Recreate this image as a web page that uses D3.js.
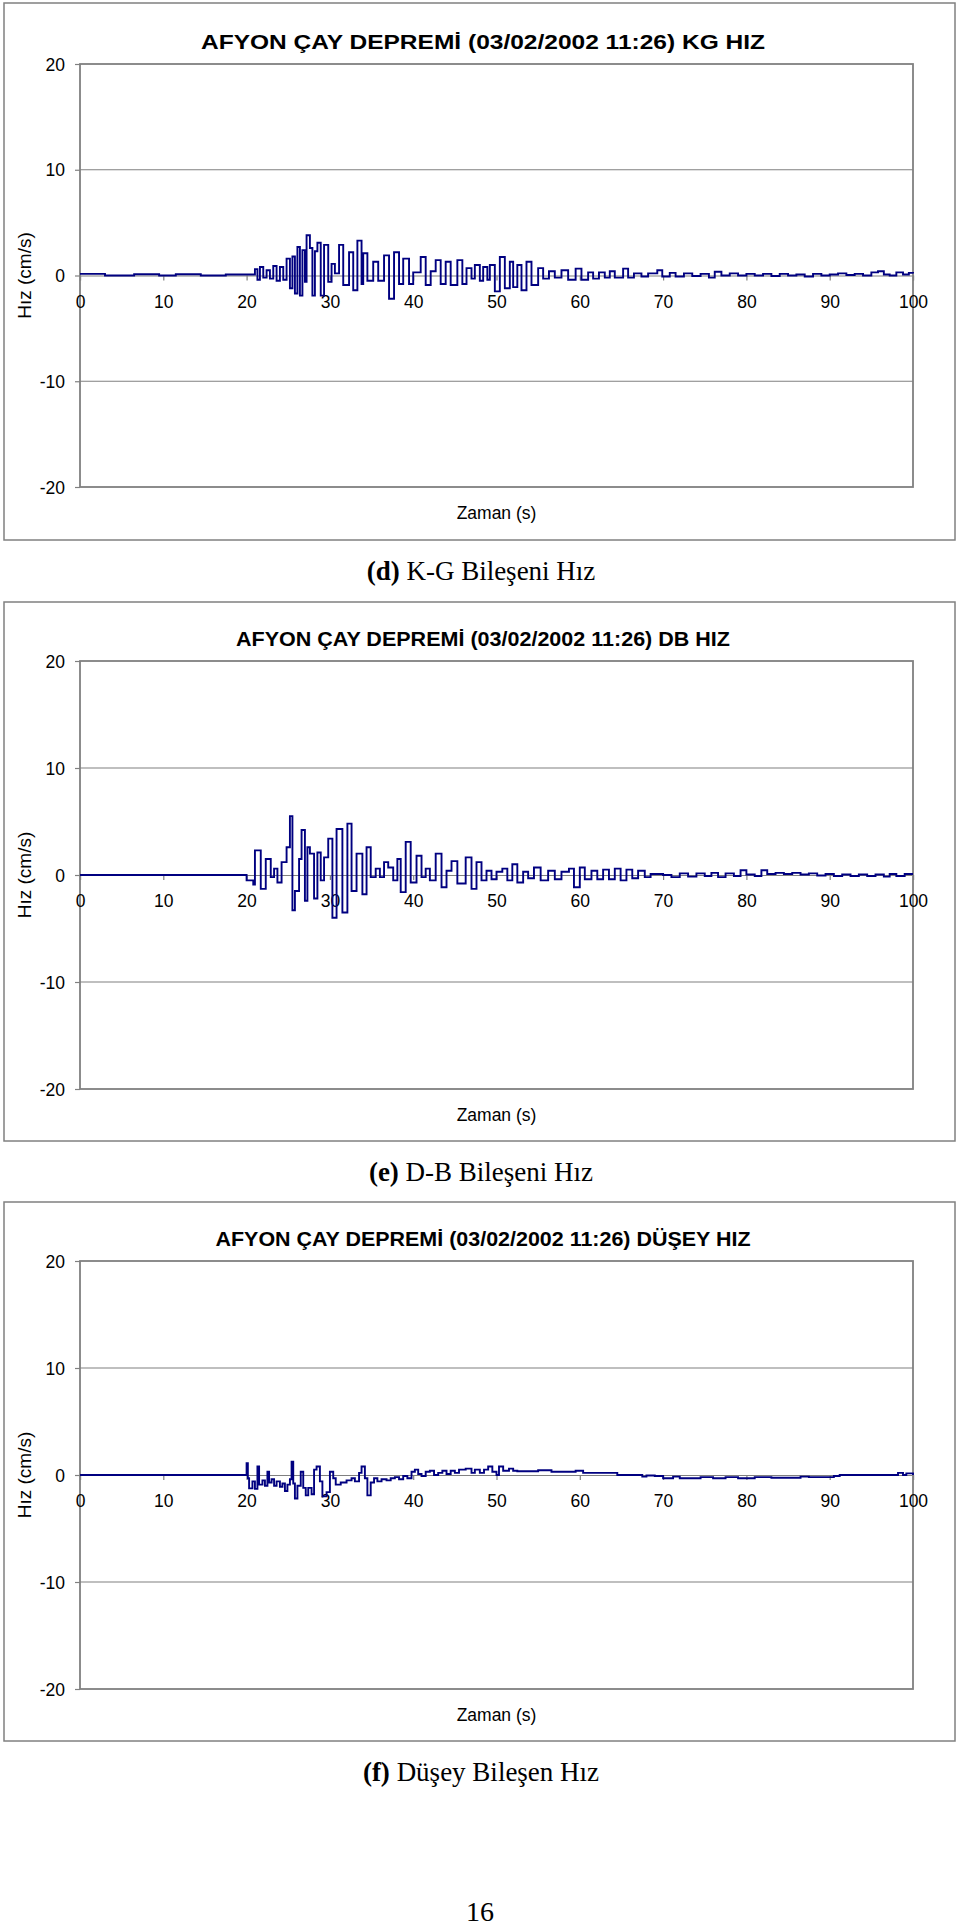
<!DOCTYPE html>
<html>
<head>
<meta charset="utf-8">
<script src="https://cdn.jsdelivr.net/npm/d3@7/dist/d3.min.js"></script>
<style>
  html, body { margin: 0; padding: 0; background: #ffffff; }
  svg { display: block; }
</style>
</head>
<body>
<svg id="page" width="960" height="1930"></svg>
<script>
// ---------------- DATA ----------------
const xTicks = [0, 10, 20, 30, 40, 50, 60, 70, 80, 90, 100];
const yTicks = [-20, -10, 0, 10, 20];

const titles = [
  "AFYON ÇAY DEPREMİ (03/02/2002 11:26) KG HIZ",
  "AFYON ÇAY DEPREMİ (03/02/2002 11:26) DB HIZ",
  "AFYON ÇAY DEPREMİ (03/02/2002 11:26) DÜŞEY HIZ"
];
const captionLetters = ["(d)", "(e)", "(f)"];
const captionTexts = [" K-G Bileşeni Hız", " D-B Bileşeni Hız", " Düşey Bileşen Hız"];
const xTitle = "Zaman (s)";
const yTitle = "Hız (cm/s)";
const pageNumber = "16";

// K-G component: time (s) and velocity (cm/s)
const kgTime = [0, 3, 6.5, 9.5, 11.5, 14.5, 17.5, 20.6, 21.0, 21.3, 21.6, 22.0, 22.4, 22.8, 23.2, 23.6, 24.0, 24.4, 24.8, 25.2,
  25.5, 25.8, 26.1, 26.4, 26.7, 27.0, 27.2, 27.6, 27.9, 28.2, 28.5, 28.9, 29.3, 29.8, 30.2, 30.6, 31.1, 31.6, 32.3, 32.8,
  33.3, 33.8, 34.0, 34.5, 35.2, 35.8, 36.5, 37.1, 37.7, 38.3, 38.8, 39.5, 40.0, 40.9, 41.5, 42.1, 42.7, 43.3, 43.9, 44.5,
  45.3, 45.9, 46.4, 47.0, 47.4, 48.0, 48.4, 48.9, 49.2, 49.8, 50.4, 51.0, 51.6, 52.0, 52.5, 53.0, 53.6, 54.2, 55.0, 55.6,
  56.3, 57.0, 57.8, 58.6, 59.5, 60.2, 61.0, 61.6, 62.3, 63.0, 63.6, 64.2, 65.2, 65.8, 66.5, 67.4, 68.2, 69.3, 69.9, 70.8,
  71.5, 72.5, 73.5, 74.5, 75.5, 76.2, 77.0, 78.0, 79.0, 80.0, 81.0, 82.0, 83.0, 84.0, 85.0, 86.0, 87.0, 88.0, 89.0, 90.0,
  91.0, 92.0, 93.0, 94.0, 95.0, 95.8, 96.5, 97.2, 98.0, 98.8, 99.5, 100];
const kgVel = [0.15, 0.0, 0.12, 0.0, 0.12, 0.0, 0.1, 0.1, 0.6, -0.4, 0.8, -0.2, 0.5, -0.3, 0.9, -0.5, 0.8, -0.4, 1.6, -1.2,
  1.8, -1.7, 2.7, -1.9, 2.4, -0.6, 3.8, 2.6, -1.9, 2.3, 3.1, -1.9, 2.9, -0.6, 1.1, 0.2, 2.9, -0.9, 2.2, -1.4,
  3.3, -0.8, 2.1, -0.5, 1.3, -0.5, 1.9, -2.2, 2.2, -0.8, 1.6, -0.8, 0.3, 1.75, -0.9, 0.4, 1.45, -0.8, 1.3, -0.9,
  1.45, -0.8, 0.7, -0.3, 1.0, -0.5, 0.8, -0.4, 1.0, -1.5, 1.75, -1.2, 1.3, -1.1, 1.0, -1.4, 1.3, -0.9, 0.7, -0.3,
  0.4, -0.2, 0.5, -0.4, 0.65, -0.4, 0.3, -0.3, 0.3, -0.2, 0.4, -0.2, 0.65, -0.2, 0.2, -0.1, 0.2, 0.5, -0.1, 0.25,
  -0.1, 0.2, -0.05, 0.15, -0.2, 0.35, 0.0, 0.2, 0.0, 0.15, 0.0, 0.15, -0.05, 0.15, 0.0, 0.1, -0.1, 0.15, 0.0, 0.1,
  0.2, 0.05, 0.15, 0.0, 0.3, 0.4, 0.1, 0.0, 0.3, 0.1, 0.25, 0.2];

// D-B component
const dbTime = [0, 20.0, 20.8, 21.0, 21.7, 22.3, 22.9, 23.3, 23.7, 24.2, 24.8, 25.2, 25.5, 25.8, 26.3, 26.6, 27.0, 27.3, 27.6, 28.1,
  28.5, 28.9, 29.3, 29.8, 30.3, 30.8, 31.5, 32.1, 32.6, 33.2, 33.9, 34.4, 34.9, 35.5, 36.0, 36.5, 37.0, 37.6, 38.1, 38.5,
  39.1, 39.7, 40.4, 41.0, 41.5, 42.0, 42.7, 43.4, 44.0, 44.6, 45.3, 46.3, 47.0, 47.6, 48.2, 48.8, 49.4, 50.0, 50.7, 51.3,
  51.9, 52.5, 53.2, 53.8, 54.5, 55.3, 56.2, 57.0, 57.8, 58.7, 59.3, 60.0, 60.6, 61.4, 62.1, 62.8, 63.5, 64.2, 64.9, 65.6,
  66.3, 67.0, 67.8, 68.5, 70.0, 71.0, 72.0, 73.0, 74.0, 75.0, 75.8, 76.6, 77.5, 78.5, 79.3, 80.0, 81.0, 81.8, 82.5, 83.5,
  84.5, 85.5, 86.5, 87.5, 88.5, 89.5, 90.5, 91.5, 92.5, 93.5, 94.5, 95.5, 96.5, 97.2, 98.0, 99.0, 100];
const dbVel = [0, -0.5, -0.9, 2.3, -1.3, 1.5, -0.2, 0.6, -0.7, 1.2, 2.6, 5.5, -3.3, -1.5, 1.5, 4.2, -2.4, 2.6, 2.0, -2.2,
  2.1, -0.5, 1.65, 3.4, -4.0, 4.3, -3.5, 4.8, -1.5, 2.0, -1.8, 2.6, -0.2, 0.6, -0.2, 1.2, 0.7, -0.5, 1.5, -1.6,
  3.1, -0.7, 1.8, -0.2, 0.6, -0.5, 2.0, -1.15, 0.4, 1.3, -0.8, 1.65, -1.3, 1.2, -0.5, 0.4, -0.4, 0.3, 0.6, -0.5,
  1.0, -0.7, 0.3, -0.3, 0.7, -0.5, 0.4, -0.4, 0.3, 0.6, -1.15, 0.7, -0.4, 0.4, -0.4, 0.5, -0.4, 0.6, -0.5, 0.5,
  -0.3, 0.4, -0.2, 0.1, 0.0, -0.2, 0.15, -0.15, 0.15, -0.1, 0.2, -0.2, 0.15, -0.1, 0.45, 0.05, -0.1, 0.45, 0.1, 0.2,
  0.1, 0.2, 0.05, 0.15, -0.05, 0.1, -0.1, 0.05, -0.1, 0.05, -0.1, 0.05, -0.15, 0.1, -0.1, 0.1, 0.1];

// Vertical (Düşey) component
const dzTime = [0, 20.0, 20.15, 20.3, 20.7, 21.0, 21.3, 21.5, 21.9, 22.2, 22.5, 22.7, 23.0, 23.3, 23.6, 24.0, 24.3, 24.6, 24.9, 25.2,
  25.4, 25.6, 25.8, 26.1, 26.5, 26.8, 27.1, 27.4, 27.8, 28.1, 28.4, 28.8, 29.1, 29.6, 30.0, 30.4, 30.7, 31.3, 32.0, 32.6,
  33.0, 33.5, 33.8, 34.2, 34.5, 34.9, 35.3, 35.7, 36.2, 36.8, 37.3, 37.8, 38.3, 38.8, 39.3, 39.8, 40.2, 40.6, 41.0, 41.5,
  42.0, 42.5, 43.0, 43.5, 44.0, 44.5, 45.0, 45.5, 46.3, 47.0, 47.4, 48.0, 48.5, 49.0, 49.5, 50.0, 50.3, 50.8, 51.5, 52.0,
  52.5, 55.0, 56.6, 59.5, 60.4, 64.5, 67.5, 68.0, 69.0, 70.0, 71.2, 72.0, 74.5, 76.0, 77.5, 79.0, 81.0, 83.0, 86.5, 87.5,
  90.5, 91.2, 97.8, 98.2, 98.8, 99.2, 100];
const dzVel = [0, 1.1, -0.3, -1.25, -0.6, -1.3, 0.8, -0.9, -0.5, -1.0, 0.3, -0.7, -0.4, -1.0, -0.6, -1.1, -0.8, -1.5, -0.9, -0.4,
  1.25, -0.8, -2.2, -1.0, 0.3, -1.2, -1.9, -1.2, -1.8, 0.5, 0.8, -0.6, -2.0, -1.6, 0.3, -0.3, -0.9, -0.7, -0.5, -0.3,
  -0.6, 0.2, 0.8, -0.3, -1.9, -0.7, -0.3, -0.6, -0.4, -0.5, -0.3, -0.2, -0.4, -0.1, -0.3, 0.3, 0.5, 0.1, -0.1, 0.3,
  0.4, 0.0, 0.2, 0.4, 0.1, 0.4, 0.2, 0.5, 0.6, 0.2, 0.5, 0.2, 0.5, 0.8, 0.3, 0.0, 0.8, 0.4, 0.6, 0.4,
  0.35, 0.45, 0.3, 0.4, 0.2, 0.0, -0.15, -0.05, -0.1, -0.3, -0.15, -0.3, -0.2, -0.3, -0.2, -0.3, -0.2, -0.25, -0.15, -0.2,
  -0.1, 0.0, 0.0, 0.2, 0.0, 0.15, 0.0];

// --------------- LAYOUT ---------------
const panels = [
  { time: kgTime, vel: kgVel, frameTop: 3,    frameBottom: 540,  plotTop: 64,   plotBottom: 487,  titleW: 564 },
  { time: dbTime, vel: dbVel, frameTop: 602,  frameBottom: 1141, plotTop: 661,  plotBottom: 1089, titleW: 494 },
  { time: dzTime, vel: dzVel, frameTop: 1202, frameBottom: 1741, plotTop: 1261, plotBottom: 1689, titleW: 535 }
];
const frameLeft = 4, frameRight = 955;
const plotLeft = 80, plotRight = 913;
const gray = "#808080";
const lineColor = "#000080";
const sans = "'Liberation Sans', Arial, sans-serif";
const serif = "'Liberation Serif', 'Times New Roman', serif";

const svg = d3.select("#page");

panels.forEach((p, i) => {
  const g = svg.append("g");
  const x = d3.scaleLinear().domain([0, 100]).range([plotLeft, plotRight]);
  const y = d3.scaleLinear().domain([-20, 20]).range([p.plotBottom, p.plotTop]);

  // outer frame
  g.append("rect")
    .attr("x", frameLeft).attr("y", p.frameTop)
    .attr("width", frameRight - frameLeft).attr("height", p.frameBottom - p.frameTop)
    .attr("fill", "none").attr("stroke", gray).attr("stroke-width", 1.5);

  // gridlines
  g.selectAll(".grid").data(yTicks.filter(v => v !== 0 && Math.abs(v) !== 20)).enter()
    .append("line")
    .attr("x1", plotLeft).attr("x2", plotRight)
    .attr("y1", d => y(d)).attr("y2", d => y(d))
    .attr("stroke", gray).attr("stroke-width", 1.2);

  // plot border
  g.append("rect")
    .attr("x", plotLeft).attr("y", p.plotTop)
    .attr("width", plotRight - plotLeft).attr("height", p.plotBottom - p.plotTop)
    .attr("fill", "none").attr("stroke", gray).attr("stroke-width", 1.8);

  // y axis (left)
  const yAxis = g.append("g").attr("transform", `translate(${plotLeft},0)`)
    .call(d3.axisLeft(y).tickValues(yTicks).tickSize(5).tickPadding(10).tickFormat(d => String(d)));
  yAxis.select(".domain").remove();
  yAxis.selectAll("line").attr("stroke", gray).attr("stroke-width", 1.2);
  yAxis.selectAll("text").attr("font-family", sans).attr("font-size", 17.5).attr("fill", "#000")
    .attr("dy", "0.35em");

  // x axis at zero
  const xAxis = g.append("g").attr("transform", `translate(0,${y(0)})`)
    .call(d3.axisBottom(x).tickValues(xTicks).tickSize(5).tickPadding(15).tickFormat(d => String(d)));
  xAxis.select(".domain").attr("stroke", gray).attr("stroke-width", 1.2);
  xAxis.selectAll("line").attr("stroke", gray).attr("stroke-width", 1.2);
  xAxis.selectAll("text").attr("font-family", sans).attr("font-size", 17.5).attr("fill", "#000");

  // data line
  const line = d3.line()
    .x(d => x(d[0])).y(d => y(d[1]))
    .curve(d3.curveStepAfter);
  const pts = p.time.map((t, k) => [t, p.vel[k]]);
  g.append("path")
    .datum(pts)
    .attr("d", line)
    .attr("fill", "none")
    .attr("stroke", lineColor)
    .attr("stroke-width", 1.9)
    .attr("stroke-linejoin", "miter");

  // chart title
  g.append("text")
    .attr("x", 483).attr("y", p.plotTop - 15)
    .attr("text-anchor", "middle")
    .attr("font-family", sans).attr("font-weight", "bold").attr("font-size", 21)
    .attr("textLength", p.titleW).attr("lengthAdjust", "spacingAndGlyphs")
    .text(titles[i]);

  // x title
  g.append("text")
    .attr("x", (plotLeft + plotRight) / 2).attr("y", p.plotBottom + 32)
    .attr("text-anchor", "middle")
    .attr("font-family", sans).attr("font-size", 17.5)
    .text(xTitle);

  // y title
  g.append("text")
    .attr("transform", `translate(31,${(p.plotTop + p.plotBottom) / 2}) rotate(-90)`)
    .attr("text-anchor", "middle")
    .attr("font-family", sans).attr("font-size", 19)
    .text(yTitle);

  // caption below frame
  const cap = g.append("text")
    .attr("x", 481).attr("y", p.frameBottom + 40)
    .attr("text-anchor", "middle")
    .attr("font-family", serif).attr("font-size", 27);
  cap.append("tspan").attr("font-weight", "bold").text(captionLetters[i]);
  cap.append("tspan").text(captionTexts[i]);
});

// page number
svg.append("text")
  .attr("x", 480).attr("y", 1921)
  .attr("text-anchor", "middle")
  .attr("font-family", serif).attr("font-size", 28)
  .text(pageNumber);
</script>
</body>
</html>
